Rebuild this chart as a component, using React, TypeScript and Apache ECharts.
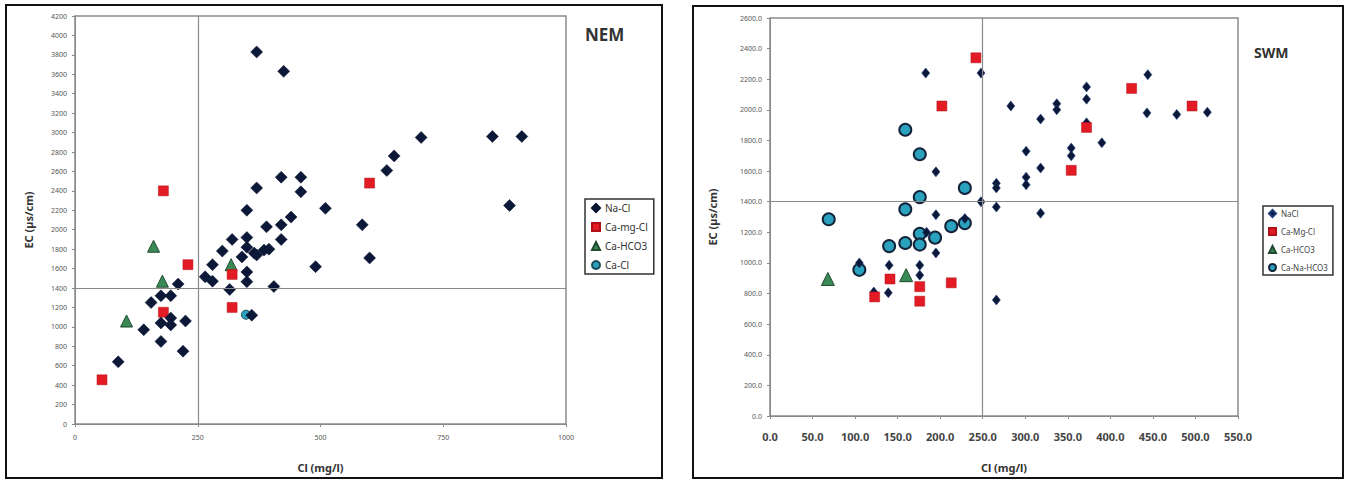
import React, { useEffect, useRef } from "react";
import * as echarts from "echarts";

// ---- NEM (north-east monsoon) samples: [Cl mg/l, EC µs/cm]
const nemNaCl: [number, number][] = [
  [370, 3830], [425, 3630], [705, 2950], [850, 2960], [910, 2960], [650, 2760], [635, 2610],
  [885, 2250], [370, 2430], [420, 2540], [460, 2540], [460, 2390], [350, 2200], [510, 2220],
  [585, 2050], [600, 1710], [440, 2130], [420, 2050], [390, 2030], [420, 1900], [350, 1920],
  [320, 1900], [350, 1820], [385, 1790], [300, 1780], [365, 1760], [340, 1720], [370, 1740],
  [395, 1800], [280, 1640], [265, 1515], [280, 1470], [350, 1565], [350, 1465], [315, 1385],
  [405, 1415], [490, 1620], [360, 1120], [210, 1440], [155, 1250], [175, 1320], [195, 1320],
  [175, 1040], [195, 1090], [195, 1020], [140, 970], [225, 1060], [175, 850], [220, 750], [88, 640],
];
const nemCaMgCl: [number, number][] = [
  [180, 2400], [230, 1640], [320, 1540], [320, 1200], [180, 1150], [55, 455], [600, 2480],
];
const nemCaHCO3: [number, number][] = [[160, 1830], [178, 1470], [105, 1060], [318, 1640]];
const nemCaCl: [number, number][] = [[348, 1125]];

// ---- SWM (south-west monsoon) samples
const swmNaCl: [number, number][] = [
  [183, 2240], [248, 2240], [283, 2025], [195, 1595], [266, 1520], [266, 1490], [248, 1400],
  [266, 1365], [195, 1315], [229, 1290], [184, 1200], [105, 1000], [195, 1065], [140, 985],
  [176, 985], [176, 920], [122, 810], [139, 805], [266, 758], [444, 2230], [372, 2150],
  [372, 2070], [337, 2040], [337, 2000], [443, 1980], [478, 1970], [514, 1985], [318, 1940],
  [372, 1915], [390, 1785], [354, 1750], [354, 1700], [301, 1730], [301, 1560], [301, 1510],
  [318, 1620], [318, 1325],
];
const swmCaMgCl: [number, number][] = [
  [242, 2340], [202, 2025], [425, 2140], [496, 2025], [372, 1885], [354, 1605], [141, 895],
  [176, 845], [176, 750], [123, 778], [213, 870],
];
const swmCaHCO3: [number, number][] = [[68, 895], [160, 920]];
const swmCaNaHCO3: [number, number][] = [
  [159, 1870], [176, 1710], [229, 1490], [176, 1430], [159, 1350], [69, 1285], [213, 1240],
  [229, 1260], [176, 1190], [194, 1165], [176, 1120], [159, 1130], [140, 1110], [105, 955],
];

// threshold guide lines
const clLimit = 250;
const ecLimit = 1400;

const NAVY = "#0c1838";
const RED = "#e31b24";
const GREEN = "#3a8a55";
const TEAL = "#2aa2bd";
const FONT = "Noto Sans";

const guide = {
  silent: true,
  symbol: ["none", "none"],
  label: { show: false },
  lineStyle: { color: "#8a8a8a", width: 1.2, type: "solid" },
  data: [{ xAxis: clLimit }, { yAxis: ecLimit }],
};

export default function App() {
  const ref = useRef<HTMLDivElement>(null);

  useEffect(() => {
    if (!ref.current) return;
    const chart = echarts.init(ref.current, null, { renderer: "svg" });

    const smallLabel = { fontSize: 7, color: "#555", fontFamily: FONT };
    const axisNameStyle = { fontSize: 11, fontWeight: "bold", color: "#333", fontFamily: FONT };
    const plain = (v: number) => String(v);

    chart.setOption({
      animation: false,
      backgroundColor: "#fff",
      textStyle: { fontFamily: FONT },
      grid: [
        { left: 75, top: 16, width: 491, height: 408, show: true, borderColor: "#8c8c8c", borderWidth: 1.5 },
        { left: 770, top: 18, width: 468, height: 398, show: true, borderColor: "#8c8c8c", borderWidth: 1.5 },
      ],
      xAxis: [
        {
          gridIndex: 0, type: "value", min: 0, max: 1000, interval: 250,
          name: "Cl (mg/l)", nameLocation: "middle", nameGap: 38, nameTextStyle: axisNameStyle,
          axisLine: { show: true, lineStyle: { color: "#888" } },
          axisTick: { show: true, length: 3, lineStyle: { color: "#888" } },
          axisLabel: { ...smallLabel, margin: 10, formatter: plain },
          splitLine: { show: false },
        },
        {
          gridIndex: 1, type: "value", min: 0, max: 550, interval: 50,
          name: "Cl (mg/l)", nameLocation: "middle", nameGap: 46, nameTextStyle: axisNameStyle,
          axisLine: { show: true, lineStyle: { color: "#888" } },
          axisTick: { show: true, length: 3, lineStyle: { color: "#888" } },
          axisLabel: {
            fontSize: 11, fontWeight: "bold", color: "#444", fontFamily: FONT, margin: 15,
            formatter: (v: number) => v.toFixed(1),
          },
          splitLine: { show: false },
        },
      ],
      yAxis: [
        {
          gridIndex: 0, type: "value", min: 0, max: 4200, interval: 200,
          name: "EC (µs/cm)", nameLocation: "middle", nameGap: 41, nameTextStyle: axisNameStyle,
          axisLine: { show: true, lineStyle: { color: "#888" } },
          axisTick: { show: true, length: 3, lineStyle: { color: "#888" } },
          axisLabel: { ...smallLabel, margin: 8, formatter: plain },
          splitLine: { show: false },
        },
        {
          gridIndex: 1, type: "value", min: 0, max: 2600, interval: 200,
          name: "EC (µs/cm)", nameLocation: "middle", nameGap: 52, nameTextStyle: axisNameStyle,
          axisLine: { show: true, lineStyle: { color: "#888" } },
          axisTick: { show: true, length: 3, lineStyle: { color: "#888" } },
          axisLabel: { ...smallLabel, margin: 8, formatter: (v: number) => v.toFixed(1) },
          splitLine: { show: false },
        },
      ],
      legend: [
        {
          data: ["Na-Cl", "Ca-mg-Cl", "Ca-HCO3", "Ca-Cl"],
          orient: "vertical", left: 585, top: 199,
          padding: [4, 6], itemGap: 9, itemWidth: 8, itemHeight: 8,
          borderColor: "#333", borderWidth: 1.5, backgroundColor: "#fff",
          textStyle: { fontSize: 10, color: "#333", fontFamily: FONT },
          selectedMode: false,
        },
        {
          data: ["NaCl", "Ca-Mg-Cl", "Ca-HCO3 ", "Ca-Na-HCO3"],
          orient: "vertical", left: 1263, top: 206,
          padding: [3, 5], itemGap: 9, itemWidth: 7, itemHeight: 7,
          borderColor: "#333", borderWidth: 1.5, backgroundColor: "#fff",
          textStyle: { fontSize: 8, color: "#444", fontFamily: FONT },
          selectedMode: false,
        },
      ],
      series: [
        // NEM
        {
          name: "Na-Cl", type: "scatter", xAxisIndex: 0, yAxisIndex: 0, data: nemNaCl,
          symbol: "diamond", symbolSize: 12, z: 4,
          itemStyle: { color: NAVY, borderColor: "#08122e", borderWidth: 0.5, opacity: 1 },
          markLine: guide,
        },
        {
          name: "Ca-mg-Cl", type: "scatter", xAxisIndex: 0, yAxisIndex: 0, data: nemCaMgCl,
          symbol: "rect", symbolSize: 10, z: 3,
          itemStyle: { color: RED, borderColor: "#b01018", borderWidth: 0.5, opacity: 1 },
        },
        {
          name: "Ca-HCO3", type: "scatter", xAxisIndex: 0, yAxisIndex: 0, data: nemCaHCO3,
          symbol: "triangle", symbolSize: 12, z: 2,
          itemStyle: { color: GREEN, borderColor: "#1f4a30", borderWidth: 1, opacity: 1 },
        },
        {
          name: "Ca-Cl", type: "scatter", xAxisIndex: 0, yAxisIndex: 0, data: nemCaCl,
          symbol: "circle", symbolSize: 9, z: 2,
          itemStyle: { color: TEAL, borderColor: "#1d4a5a", borderWidth: 1, opacity: 1 },
        },
        // SWM
        {
          name: "NaCl", type: "scatter", xAxisIndex: 1, yAxisIndex: 1, data: swmNaCl,
          symbol: "diamond", symbolSize: [8, 10], z: 3,
          itemStyle: { color: NAVY, borderColor: "#1a3a7a", borderWidth: 0.6, opacity: 1 },
          markLine: guide,
        },
        {
          name: "Ca-Mg-Cl", type: "scatter", xAxisIndex: 1, yAxisIndex: 1, data: swmCaMgCl,
          symbol: "rect", symbolSize: 10, z: 4,
          itemStyle: { color: RED, borderColor: "#b01018", borderWidth: 0.5, opacity: 1 },
        },
        {
          name: "Ca-HCO3 ", type: "scatter", xAxisIndex: 1, yAxisIndex: 1, data: swmCaHCO3,
          symbol: "triangle", symbolSize: 13, z: 2,
          itemStyle: { color: GREEN, borderColor: "#1f4a30", borderWidth: 1, opacity: 1 },
        },
        {
          name: "Ca-Na-HCO3", type: "scatter", xAxisIndex: 1, yAxisIndex: 1, data: swmCaNaHCO3,
          symbol: "circle", symbolSize: 12, z: 2,
          itemStyle: { color: TEAL, borderColor: "#13243a", borderWidth: 2, opacity: 1 },
        },
      ],
      graphic: [
        {
          type: "rect", shape: { x: 6, y: 5, width: 656, height: 473 },
          style: { fill: "none", stroke: "#111", lineWidth: 2 }, silent: true,
        },
        {
          type: "rect", shape: { x: 693, y: 6, width: 650, height: 472 },
          style: { fill: "none", stroke: "#111", lineWidth: 2 }, silent: true,
        },
        {
          type: "text", left: 585, top: 26,
          style: { text: "NEM", fontSize: 17, fontWeight: "bold", fill: "#333", fontFamily: FONT },
        },
        {
          type: "text", left: 1254, top: 45,
          style: { text: "SWM", fontSize: 14, fontWeight: "bold", fill: "#333", fontFamily: FONT },
        },
      ],
    });

    return () => chart.dispose();
  }, []);

  return (
    <div
      ref={ref}
      style={{ position: "fixed", left: 0, top: 0, width: 1345, height: 482, background: "#fff" }}
    />
  );
}
